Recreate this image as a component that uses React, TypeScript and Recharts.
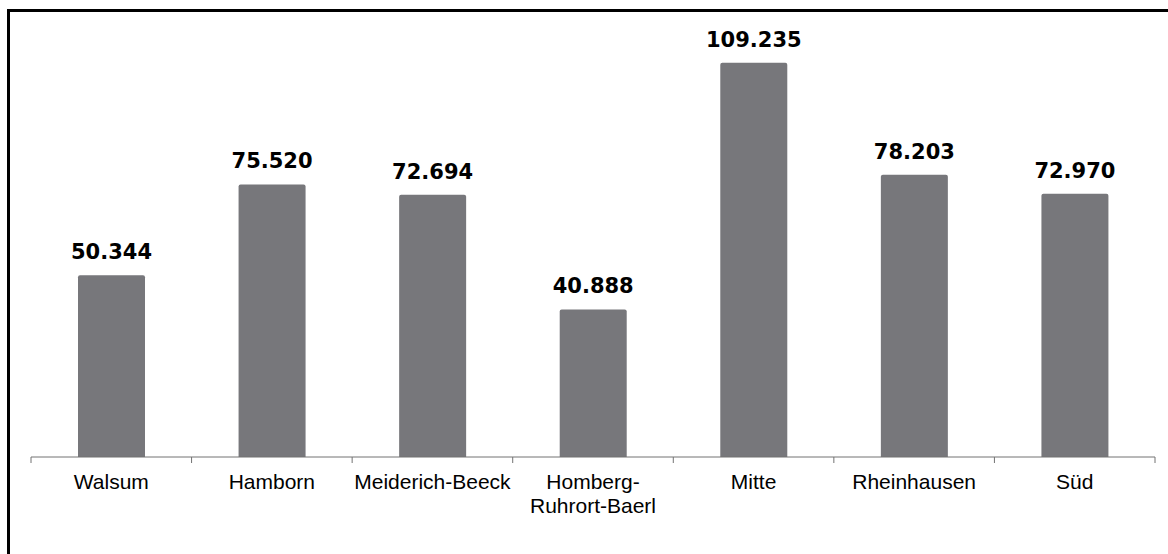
import React from "react";
import { BarChart, Bar, XAxis, YAxis, LabelList } from "recharts";

// Einwohner nach Stadtbezirk
const districts = [
  "Walsum",
  "Hamborn",
  "Meiderich-Beeck",
  "Homberg-Ruhrort-Baerl",
  "Mitte",
  "Rheinhausen",
  "Süd",
];
const residents = [50344, 75520, 72694, 40888, 109235, 78203, 72970];

const data = districts.map((name, i) => ({ name, value: residents[i] }));

const fmt = (v: number) => v.toLocaleString("de-DE");

const AXIS_COLOR = "#737373";

// Long district names break after their first hyphen
const splitName = (name: string): string[] => {
  if (name.length <= 16) return [name];
  const i = name.indexOf("-");
  return i > 0 ? [name.slice(0, i + 1), name.slice(i + 1)] : [name];
};

// Category label plus tick marks on the band boundaries
const DistrictTick = (props: any) => {
  const { x, y, payload, index, visibleTicksCount } = props;
  const half = payload.offset || 0;
  const lines = splitName(String(payload.value));
  const isLast = index === visibleTicksCount - 1;
  return (
    <g>
      <line x1={x - half} x2={x - half} y1={y} y2={y + 6} stroke={AXIS_COLOR} strokeWidth={1} />
      {isLast && (
        <line x1={x + half} x2={x + half} y1={y} y2={y + 6} stroke={AXIS_COLOR} strokeWidth={1} />
      )}
      <text
        x={x}
        y={y}
        textAnchor="middle"
        fontFamily="'Liberation Sans', Arial, sans-serif"
        fontSize={21}
        fill="#000"
      >
        {lines.map((l, i) => (
          <tspan key={i} x={x} dy={i === 0 ? 32 : 24}>
            {l}
          </tspan>
        ))}
      </text>
    </g>
  );
};

const ValueLabel = (props: any) => {
  const { x, y, width, value } = props;
  return (
    <text
      x={x + width / 2}
      y={y - 16}
      textAnchor="middle"
      fontFamily="'DejaVu Sans', Verdana, sans-serif"
      fontWeight="bold"
      fontSize={21}
      fill="#000"
    >
      {fmt(value)}
    </text>
  );
};

export default function App() {
  return (
    <div
      style={{
        position: "fixed",
        left: 0,
        top: 0,
        width: 1168,
        height: 554,
        background: "#fff",
      }}
    >
      <div
        style={{
          position: "absolute",
          left: 7,
          top: 9,
          width: 1170,
          height: 560,
          borderTop: "3px solid #000",
          borderLeft: "3px solid #000",
        }}
      />
      <div style={{ position: "absolute", left: 0, top: 0 }}>
        <BarChart
          width={1168}
          height={554}
          data={data}
          margin={{ top: 24, right: 13, bottom: 37, left: 31 }}
        >
          <XAxis
            dataKey="name"
            axisLine={{ stroke: AXIS_COLOR, strokeWidth: 1 }}
            tickLine={false}
            tickSize={0}
            tickMargin={0}
            height={60}
            interval={0}
            tick={<DistrictTick />}
          />
          <YAxis hide domain={[0, 120000]} />
          <Bar
            dataKey="value"
            fill="#77777b"
            barSize={67}
            radius={[2, 2, 0, 0]}
            isAnimationActive={false}
          >
            <LabelList dataKey="value" content={<ValueLabel />} />
          </Bar>
        </BarChart>
      </div>
    </div>
  );
}
